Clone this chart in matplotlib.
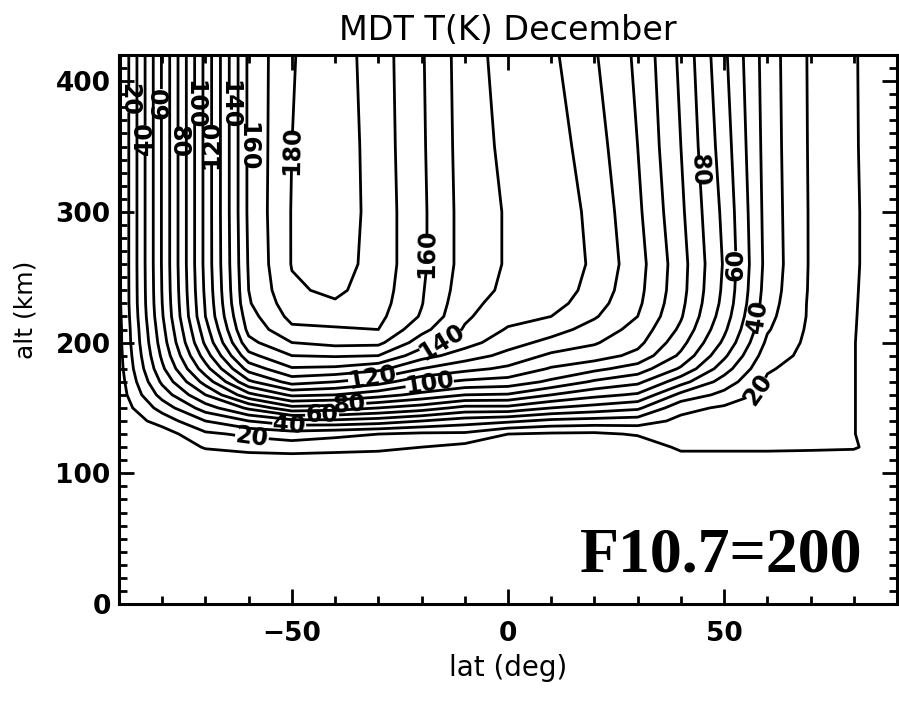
import numpy as np
import matplotlib
matplotlib.use("Agg")
import matplotlib.pyplot as plt
from matplotlib.ticker import MultipleLocator

# latitude (deg) and altitude (km) grid nodes
lat = [-90, -80, -70, -60, -50, -40, -30, -20, -10, 0,
       10, 20, 30, 40, 50, 60, 70, 80, 90]
alt = [100, 110, 120, 130, 140, 150, 160, 170, 180, 190,
       200, 210, 220, 230, 240, 260, 300, 350, 420]

# temperature (K), one row per latitude, values at the altitudes above
temp_by_lat = [
    [0, 0, 0.5, 1.5, 2.5, 3.5, 4.5, 5, 6, 6.5, 7, 7, 7.5, 8, 8, 8, 8, 8, 8],
    [0, 0, 1, 5, 14, 24, 34, 42, 48, 52, 55, 57, 59, 60, 60.5, 61, 61, 61, 61],
    [0, 3, 11, 18, 30, 45, 60, 74, 86, 95, 102, 106, 110, 111, 112, 113, 113, 113, 113],
    [0, 5, 13.5, 22, 40, 62, 87, 108, 124, 137, 147, 153, 156, 159, 160, 161, 162, 162, 162],
    [0, 5, 15, 25, 47, 77, 102, 124, 139, 150, 160, 168, 173, 176, 178.5, 180.5, 180.5, 180, 179.5],
    [0, 5, 13.5, 22.5, 47.5, 75, 100, 120, 138, 151, 163, 169, 174, 179, 182, 184.5, 186, 186, 185],
    [0, 4.5, 12.5, 20, 45, 70, 94, 114, 133, 150, 162.5, 170, 172.5, 174, 175, 176, 176, 175.5, 175],
    [0, 3, 10, 18, 40, 65, 87, 103, 120, 134, 145, 153, 159, 160.5, 161, 162, 162, 161.5, 161],
    [0, 2, 7, 18, 35, 57, 80, 98, 113, 125, 134, 139, 141.5, 143, 144.5, 146, 146, 145.5, 145],
    [0, 1, 3, 10, 32, 57, 79, 96, 108, 117, 124, 129, 133.5, 136, 138, 139, 139, 137.5, 135.5],
    [0, 1, 3, 8.5, 27.5, 50, 70, 88, 99, 108, 117, 124, 130, 134, 136.5, 138, 137, 135, 132],
    [0, 1, 3, 8, 26, 46, 63, 78.5, 92.5, 105, 111, 116, 121, 124, 126, 128, 127, 124.5, 121],
    [0, 1, 3, 11, 25, 42, 58.5, 72.5, 85.5, 97, 103, 106.5, 110, 112, 113, 114, 112, 110, 108],
    [0, 5.5, 12, 14, 17.5, 23, 37, 54, 68.5, 78, 83.5, 88, 91, 92.5, 93.5, 94, 92, 90, 88],
    [0, 5.5, 12, 13.5, 16, 18.5, 27, 35.5, 44.5, 52, 58, 62, 65, 67, 68, 69, 67.5, 65, 62],
    [0, 5.5, 12, 12.5, 14, 15.5, 17, 18.5, 21, 24.5, 28, 31, 33, 34.5, 35.5, 36.5, 36, 35.5, 35],
    [0, 5.5, 11.5, 11.5, 12, 13, 14, 15, 16, 17, 17.5, 18, 18.5, 18.5, 18.8, 19, 19, 18.8, 18.6],
    [0, 5, 11, 10.2, 10.2, 10.2, 10.2, 10.2, 10.2, 10.2, 10.2, 10.3, 10.4, 10.5, 10.6, 10.8, 10.8, 10.6, 10.5],
    [0, 0, 3, 5, 5, 5, 5, 5, 5, 5, 5, 5, 5, 5, 5, 5, 5, 5, 5],
]

# plain levels and labelled levels, every 10 K
plain_levels = [10, 30, 50, 70, 90, 110, 130, 150, 170]
label_levels = [20, 40, 60, 80, 100, 120, 140, 160, 180]

# where the level labels sit (lat, alt)
label_spots = [
    (-50.6, 347), (-18.6, 268), (-15.9, 202), (-31.4, 173), (-18.2, 170),
    (44.3, 332), (52.9, 260), (56.6, 220), (56.6, 166),
    (-59.2, 129), (-50.6, 137.5), (-43.0, 144.5), (-36.7, 152),
    (-87.7, 386), (-84.0, 356), (-80.2, 384), (-76.3, 354),
    (-72.5, 382), (-68.6, 352), (-64.5, 382), (-60.4, 350),
]

temp = np.array(temp_by_lat).T

fig = plt.figure(figsize=(8.99, 7.01), dpi=100)
ax = fig.add_axes([119 / 899, 97 / 701, 778 / 899, 549 / 701])

ax.contour(lat, alt, temp, levels=plain_levels, colors="black", linewidths=2.0)
cs = ax.contour(lat, alt, temp, levels=label_levels, colors="black",
                linewidths=2.0)
labels = ax.clabel(cs, manual=label_spots, fmt="%d", fontsize=17,
                   inline=True, inline_spacing=2)
for t in labels:
    t.set_fontweight("bold")

ax.set_xlim(-90, 90)
ax.set_ylim(0, 420)
ax.xaxis.set_major_locator(MultipleLocator(50))
ax.xaxis.set_minor_locator(MultipleLocator(10))
ax.yaxis.set_major_locator(MultipleLocator(100))
ax.yaxis.set_minor_locator(MultipleLocator(10))
ax.tick_params(which="both", direction="in", top=True, right=True, width=2)
ax.tick_params(which="major", length=11, labelsize=19)
ax.tick_params(which="minor", length=6)
ax.tick_params(axis="x", which="major", pad=12)
ax.tick_params(axis="y", which="major", pad=6)
for lbl in ax.get_xticklabels() + ax.get_yticklabels():
    lbl.set_fontweight("bold")
for sp in ax.spines.values():
    sp.set_linewidth(2.2)

ax.set_title("MDT T(K) December", fontsize=24, pad=11)
ax.set_xlabel("lat (deg)", fontsize=20, labelpad=5)
ax.set_ylabel("alt (km)", fontsize=18)
ax.yaxis.set_label_coords(-0.105, 0.536)

fig.text(862 / 899, 1 - 572 / 701, "F10.7=200", family="Liberation Serif",
         weight="bold", fontsize=46, ha="right", va="baseline")

fig.savefig("out.png", dpi=100)
